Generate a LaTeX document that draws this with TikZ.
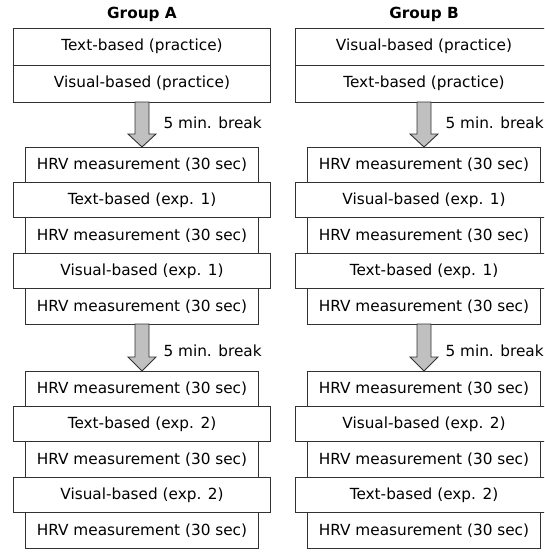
\documentclass[tikz,border=0pt]{standalone}
\usepackage{fontspec}
\setmainfont{DejaVu Sans}
\usetikzlibrary{positioning,calc}
\definecolor{arrowgray}{RGB}{192,192,192}
\definecolor{linegray}{RGB}{50,50,50}
\tikzset{
  expbox/.style={draw=linegray, line width=0.9pt, rectangle, inner sep=0pt, outer sep=0pt,
    minimum width=257pt, minimum height=35.4pt, font=\fontsize{15.3}{18}\selectfont},
  hrvbox/.style={expbox, minimum width=233pt},
  pracbox/.style={expbox, minimum height=37pt},
  grouptitle/.style={font=\fontsize{15.3}{18}\selectfont\bfseries},
  breaklabel/.style={anchor=west, font=\fontsize{15.3}{18}\selectfont},
  breakarrow/.style={draw=linegray, line width=0.9pt, fill=arrowgray, line join=miter},
}
\begin{document}
\begin{tikzpicture}[x=1pt,y=-1pt]
      \useasboundingbox (0,0) rectangle (544,552);
      \clip (0,0) rectangle (544,552);
      % Group A
      \node[grouptitle] (tA) at (142,14) {Group A};
      \node[pracbox] (pA1) at (142,46.5) {Text-based (practice)};
      \node[pracbox, below=0pt of pA1] (pA2) {Visual-based (practice)};
      \node[hrvbox, below=45pt of pA2] (hA1) {HRV measurement (30 sec)};
      \node[expbox, below=0pt of hA1] (eA1) {Text-based (exp. 1)};
      \node[hrvbox, below=0pt of eA1] (hA2) {HRV measurement (30 sec)};
      \node[expbox, below=0pt of hA2] (eA2) {Visual-based (exp. 1)};
      \node[hrvbox, below=0pt of eA2] (hA3) {HRV measurement (30 sec)};
      \node[hrvbox, below=47pt of hA3] (hA4) {HRV measurement (30 sec)};
      \node[expbox, below=0pt of hA4] (eA3) {Text-based (exp. 2)};
      \node[hrvbox, below=0pt of eA3] (hA5) {HRV measurement (30 sec)};
      \node[expbox, below=0pt of hA5] (eA4) {Visual-based (exp. 2)};
      \node[hrvbox, below=0pt of eA4] (hA6) {HRV measurement (30 sec)};
      \draw[breakarrow] ($(pA2.south)+(-7,0)$) -- ($(hA1.north)+(-7,-13)$) -- ($(hA1.north)+(-14,-13)$) -- (hA1.north)
        -- ($(hA1.north)+(14,-13)$) -- ($(hA1.north)+(7,-13)$) -- ($(pA2.south)+(7,0)$) -- cycle;
      \node[breaklabel] (bA1) at ($(hA1.north)+(18,-24)$) {5 min. break};
      \draw[breakarrow] ($(hA3.south)+(-7,0)$) -- ($(hA4.north)+(-7,-14)$) -- ($(hA4.north)+(-14,-14)$) -- (hA4.north)
        -- ($(hA4.north)+(14,-14)$) -- ($(hA4.north)+(7,-14)$) -- ($(hA3.south)+(7,0)$) -- cycle;
      \node[breaklabel] (bA2) at ($(hA4.north)+(18,-20)$) {5 min. break};
      % Group B
      \node[grouptitle] (tB) at (424,14) {Group B};
      \node[pracbox] (pB1) at (424,46.5) {Visual-based (practice)};
      \node[pracbox, below=0pt of pB1] (pB2) {Text-based (practice)};
      \node[hrvbox, below=45pt of pB2] (hB1) {HRV measurement (30 sec)};
      \node[expbox, below=0pt of hB1] (eB1) {Visual-based (exp. 1)};
      \node[hrvbox, below=0pt of eB1] (hB2) {HRV measurement (30 sec)};
      \node[expbox, below=0pt of hB2] (eB2) {Text-based (exp. 1)};
      \node[hrvbox, below=0pt of eB2] (hB3) {HRV measurement (30 sec)};
      \node[hrvbox, below=47pt of hB3] (hB4) {HRV measurement (30 sec)};
      \node[expbox, below=0pt of hB4] (eB3) {Visual-based (exp. 2)};
      \node[hrvbox, below=0pt of eB3] (hB5) {HRV measurement (30 sec)};
      \node[expbox, below=0pt of hB5] (eB4) {Text-based (exp. 2)};
      \node[hrvbox, below=0pt of eB4] (hB6) {HRV measurement (30 sec)};
      \draw[breakarrow] ($(pB2.south)+(-7,0)$) -- ($(hB1.north)+(-7,-13)$) -- ($(hB1.north)+(-14,-13)$) -- (hB1.north)
        -- ($(hB1.north)+(14,-13)$) -- ($(hB1.north)+(7,-13)$) -- ($(pB2.south)+(7,0)$) -- cycle;
      \node[breaklabel] (bB1) at ($(hB1.north)+(18,-24)$) {5 min. break};
      \draw[breakarrow] ($(hB3.south)+(-7,0)$) -- ($(hB4.north)+(-7,-14)$) -- ($(hB4.north)+(-14,-14)$) -- (hB4.north)
        -- ($(hB4.north)+(14,-14)$) -- ($(hB4.north)+(7,-14)$) -- ($(hB3.south)+(7,0)$) -- cycle;
      \node[breaklabel] (bB2) at ($(hB4.north)+(18,-20)$) {5 min. break};
\end{tikzpicture}
\end{document}
